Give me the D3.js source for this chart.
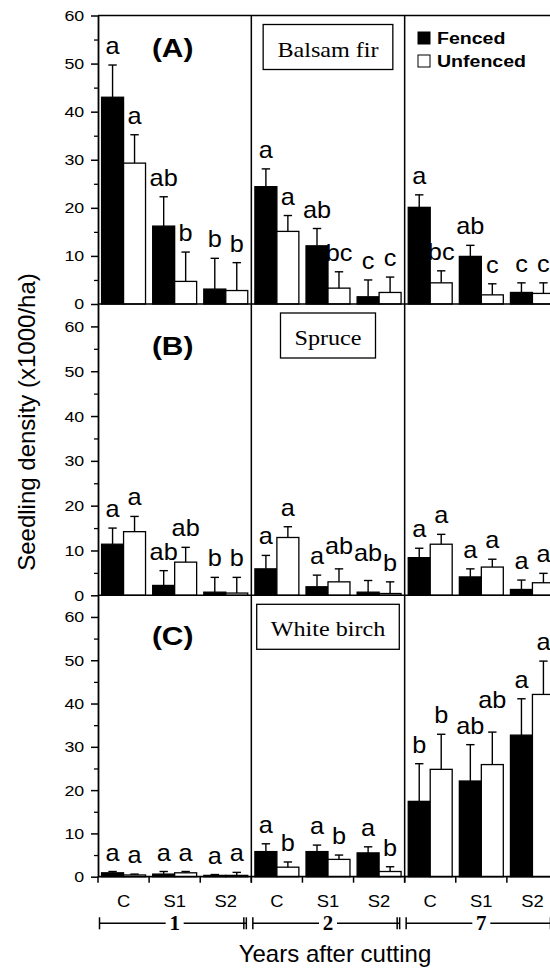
<!DOCTYPE html>
<html><head><meta charset="utf-8">
<script src="https://cdn.jsdelivr.net/npm/d3@7"></script>
<style>body{margin:0;background:#fff}svg{display:block}</style>
</head><body>
<svg id="chart" width="550" height="968"></svg>
<script>
// ---------------- data ----------------
const years = ["1", "2", "7"];
const treatments = ["C", "S1", "S2"];
const seriesNames = ["Fenced", "Unfenced"];
const speciesNames = ["Balsam fir", "Spruce", "White birch"];
const panelTags = ["(A)", "(B)", "(C)"];
const yTickValues = [0, 10, 20, 30, 40, 50, 60];
const yMinorValues = [5, 15, 25, 35, 45, 55];
const yAxisTitle = "Seedling density (x1000/ha)";
const xAxisTitle = "Years after cutting";

// order in each array: year1 C,S1,S2 | year2 C,S1,S2 | year7 C,S1,S2
const firFenced        = [43.0, 16.2, 3.1, 24.4, 12.1, 1.5, 20.1, 9.9, 2.4];
const firFencedSE      = [6.7, 6.1, 6.4, 3.7, 3.6, 3.5, 2.6, 2.3, 2.0];
const firUnfenced      = [29.3, 4.7, 2.8, 15.1, 3.3, 2.4, 4.4, 1.9, 2.2];
const firUnfencedSE    = [5.9, 6.1, 5.8, 3.3, 3.4, 3.2, 2.5, 2.3, 2.2];
const firFencedLetters   = ["a", "ab", "b", "a", "ab", "c", "a", "ab", "c"];
const firUnfencedLetters = ["a", "b", "b", "a", "bc", "c", "bc", "c", "c"];

const spruceFenced     = [11.4, 2.2, 0.7, 5.9, 1.9, 0.7, 8.4, 4.1, 1.3];
const spruceFencedSE   = [3.6, 3.3, 3.3, 3.0, 2.6, 2.6, 2.1, 1.8, 2.1];
const spruceUnfenced   = [14.2, 7.4, 0.5, 12.9, 3.0, 0.4, 11.4, 6.3, 2.8];
const spruceUnfencedSE = [3.4, 3.3, 3.5, 2.4, 2.9, 2.6, 2.2, 1.75, 2.1];
const spruceFencedLetters   = ["a", "ab", "b", "a", "a", "ab", "a", "a", "a"];
const spruceUnfencedLetters = ["a", "ab", "b", "a", "ab", "b", "a", "a", "a"];

const birchFenced      = [0.9, 0.6, 0.3, 5.8, 5.8, 5.5, 17.4, 22.1, 32.7];
const birchFencedSE    = [0.3, 0.6, 0.2, 1.8, 1.5, 1.4, 8.7, 8.4, 8.4];
const birchUnfenced    = [0.4, 0.9, 0.3, 2.2, 4.0, 1.2, 24.8, 25.9, 42.1];
const birchUnfencedSE  = [0.2, 0.3, 0.7, 1.2, 1.0, 1.1, 8.1, 7.5, 7.7];
const birchFencedLetters   = ["a", "a", "a", "a", "a", "a", "b", "ab", "a"];
const birchUnfencedLetters = ["a", "a", "a", "b", "b", "b", "b", "ab", "a"];

// ---------------- build tables ----------------
const speciesData = [
  {F: firFenced, FSE: firFencedSE, U: firUnfenced, USE: firUnfencedSE, FL: firFencedLetters, UL: firUnfencedLetters},
  {F: spruceFenced, FSE: spruceFencedSE, U: spruceUnfenced, USE: spruceUnfencedSE, FL: spruceFencedLetters, UL: spruceUnfencedLetters},
  {F: birchFenced, FSE: birchFencedSE, U: birchUnfenced, USE: birchUnfencedSE, FL: birchFencedLetters, UL: birchUnfencedLetters}
];
function rowsFor(s) {
  const d = speciesData[s], out = [];
  years.forEach((yr, i) => treatments.forEach((t, j) => {
    const k = i * 3 + j;
    out.push({year: yr, treat: t, series: "Fenced", value: d.F[k], se: d.FSE[k], letter: d.FL[k]});
    out.push({year: yr, treat: t, series: "Unfenced", value: d.U[k], se: d.USE[k], letter: d.UL[k]});
  }));
  return out;
}

// ---------------- layout ----------------
const svg = d3.select("#chart");
const left = 98, panelW = 153.33;
const rowsLayout = [
  {top: 15.5, bottom: 304, max: 60, tagDy: 32},
  {top: 304, bottom: 595.3, max: 65, tagDy: 42},
  {top: 595.3, bottom: 876.7, max: 65, tagDy: 41}
];
const SANS = "'Liberation Sans', Arial, Helvetica, sans-serif";
const SERIF = "'Liberation Serif', 'Times New Roman', serif";
const SX = 1.15;
const LETTER_SX = 1.1;

const xYear = d3.scaleBand().domain(years).range([left, left + 3 * panelW]).padding(0);
const xTreat = d3.scaleBand().domain(treatments).range([0, panelW]).paddingInner(0.14).paddingOuter(0.07);
const xSer = d3.scaleBand().domain(seriesNames).range([0, xTreat.bandwidth()]).padding(0);
const colorFill = d3.scaleOrdinal().domain(seriesNames).range(["#000", "#fff"]);

function stext(g, x, y, str, size, opts = {}) {
  return g.append("text")
    .attr("transform", `translate(${x},${y}) scale(${opts.sx || SX},1)`)
    .attr("text-anchor", opts.anchor || "middle")
    .attr("font-family", opts.family || SANS)
    .attr("font-size", size)
    .attr("font-weight", opts.weight || "normal")
    .attr("fill", "#000")
    .text(str);
}

const xRight = left + 3 * panelW;

rowsLayout.forEach((R, s) => {
  const y = d3.scaleLinear().domain([0, R.max]).range([R.bottom, R.top]);
  const g = svg.append("g");
  const data = rowsFor(s);
  const bx = d => xYear(d.year) + xTreat(d.treat) + xSer(d.series);

  // bars
  g.selectAll("rect.bar").data(data).join("rect")
    .attr("class", "bar")
    .attr("x", bx)
    .attr("y", d => y(d.value))
    .attr("width", xSer.bandwidth())
    .attr("height", d => y(0) - y(d.value))
    .attr("fill", d => colorFill(d.series))
    .attr("stroke", "#000").attr("stroke-width", 1.3);

  // error bars
  const eb = g.selectAll("g.err").data(data).join("g").attr("class", "err");
  eb.append("line")
    .attr("x1", d => bx(d) + xSer.bandwidth() / 2).attr("x2", d => bx(d) + xSer.bandwidth() / 2)
    .attr("y1", d => y(d.value)).attr("y2", d => y(d.value + d.se))
    .attr("stroke", "#000").attr("stroke-width", 1.4);
  eb.append("line")
    .attr("x1", d => bx(d) + xSer.bandwidth() / 2 - 4.2).attr("x2", d => bx(d) + xSer.bandwidth() / 2 + 4.2)
    .attr("y1", d => y(d.value + d.se)).attr("y2", d => y(d.value + d.se))
    .attr("stroke", "#000").attr("stroke-width", 1.4);

  // letters (with simple collision handling within each treatment pair)
  data.forEach(d => {
    d.lx = bx(d) + xSer.bandwidth() / 2;
    d.ly = y(d.value + d.se) - 11;
    d.node = stext(g, d.lx, d.ly, d.letter, 23, {sx: LETTER_SX});
    d.lw = d.node.node().getBBox().width * LETTER_SX;
  });
  for (let i = 0; i < data.length; i += 2) {
    const a = data[i], b = data[i + 1];
    const overlap = (a.lw + b.lw) / 2 - (b.lx - a.lx) + 1;
    if (overlap > 0 && Math.abs(a.ly - b.ly) < 22) {
      const hi = a.ly < b.ly ? a : b;
      const lo = hi === a ? b : a;
      hi.ly = lo.ly - (overlap > 4 ? 26 : 10);
      hi.node.attr("transform", `translate(${hi.lx},${hi.ly}) scale(${LETTER_SX},1)`);
    }
  }

  // frame lines
  g.append("line").attr("x1", left).attr("x2", xRight).attr("y1", R.top).attr("y2", R.top)
    .attr("stroke", "#000").attr("stroke-width", 1.5);
  [1, 2].forEach(i => {
    const xx = xYear(years[i]);
    g.append("line").attr("x1", xx).attr("x2", xx).attr("y1", R.top).attr("y2", R.bottom)
      .attr("stroke", "#000").attr("stroke-width", 1.5);
  });

  // y axis
  const ax = g.append("g").attr("transform", `translate(${left},0)`)
    .call(d3.axisLeft(y).tickValues(yTickValues).tickSize(7).tickSizeOuter(0).tickPadding(5).tickFormat(d3.format("d")));
  ax.select(".domain").attr("stroke-width", 1.8);
  ax.selectAll(".tick line").attr("stroke-width", 1.5);
  ax.selectAll(".tick text")
    .attr("font-family", SANS).attr("font-size", 15.5).attr("fill", "#000")
    .attr("transform", `scale(${SX},1)`);
  g.append("g").attr("transform", `translate(${left},0)`)
    .call(d3.axisLeft(y).tickValues(yMinorValues).tickSize(4).tickFormat(""))
    .call(a => a.select(".domain").remove())
    .selectAll(".tick line").attr("stroke-width", 1.3);

  // panel tag
  stext(g, xYear(years[0]) + panelW / 2 - 2, R.top + R.tagDy + 9, panelTags[s], 26, {weight: "bold"});

  // species box
  const mid = xYear(years[1]) + panelW / 2;
  const st = stext(g, mid, R.top + 41, speciesNames[s], 21, {family: SERIF, sx: 1.15});
  const bb = st.node().getBBox();
  const tw = bb.width * 1.15;
  g.insert("rect", "text")
    .attr("x", mid - tw / 2 - 14).attr("y", R.top + 9)
    .attr("width", tw + 28).attr("height", 45)
    .attr("fill", "#fff").attr("stroke", "#000").attr("stroke-width", 1.3);
});

// bottom axis
const bottomY = rowsLayout[2].bottom;
svg.append("line").attr("x1", left).attr("x2", xRight).attr("y1", bottomY).attr("y2", bottomY)
  .attr("stroke", "#000").attr("stroke-width", 1.8);
years.forEach(yr => {
  const g = svg.append("g").attr("transform", `translate(${xYear(yr)},${bottomY})`);
  g.call(d3.axisBottom(xTreat).tickSize(0).tickPadding(0))
    .call(a => a.select(".domain").remove())
    .selectAll(".tick text").remove();
  treatments.forEach(t => stext(g, xTreat(t) + xTreat.bandwidth() / 2, 30.5, t, 16));
  d3.range(4).forEach(i => {
    g.append("line").attr("x1", i * xTreat.step()).attr("x2", i * xTreat.step())
      .attr("y1", 0).attr("y2", 6).attr("stroke", "#000").attr("stroke-width", 1.5);
  });
  // bracket
  const by = 46.6, x0 = 1.5, x1 = panelW - 5;
  const bg = g.append("g").attr("stroke", "#000").attr("stroke-width", 1.5);
  bg.append("line").attr("x1", x0).attr("x2", x1).attr("y1", by).attr("y2", by);
  bg.append("line").attr("x1", x0).attr("x2", x0).attr("y1", by - 6).attr("y2", by + 6);
  bg.append("line").attr("x1", x1).attr("x2", x1).attr("y1", by - 6).attr("y2", by + 6);
  bg.append("line").attr("x1", x1 - 2.5).attr("x2", x1 - 2.5).attr("y1", by - 6).attr("y2", by + 6);
  g.append("rect").attr("x", panelW / 2 - 9).attr("y", by - 8).attr("width", 18).attr("height", 16).attr("fill", "#fff");
  stext(g, panelW / 2, by + 7, yr, 20, {family: SERIF, weight: "bold", sx: 1.05});
});

// axis titles
svg.append("text")
  .attr("transform", `translate(35,422) rotate(-90)`)
  .attr("text-anchor", "middle").attr("font-family", SANS).attr("font-size", 24).attr("fill", "#000")
  .text(yAxisTitle);
svg.append("text")
  .attr("x", 335).attr("y", 962)
  .attr("text-anchor", "middle").attr("font-family", SANS).attr("font-size", 24).attr("fill", "#000")
  .text(xAxisTitle);

// legend
const lg = svg.append("g");
seriesNames.forEach((nm, i) => {
  const ly = 38 + i * 23;
  lg.append("rect").attr("x", 418).attr("y", ly - 6).attr("width", 12).attr("height", 12)
    .attr("fill", colorFill(nm)).attr("stroke", "#000").attr("stroke-width", 1);
  stext(lg, 437, ly + 6, nm, 17, {anchor: "start", weight: "bold"});
});
</script>
</body></html>
